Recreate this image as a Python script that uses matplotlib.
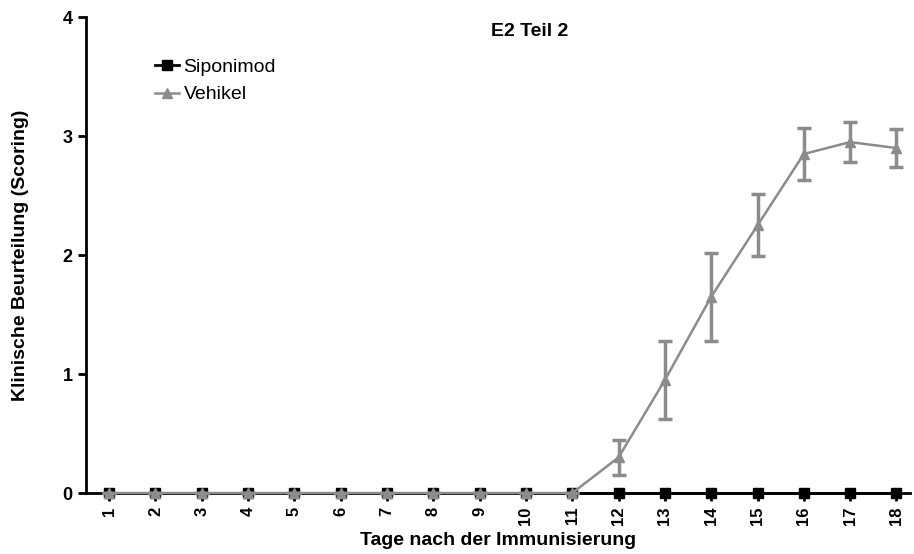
import numpy as np
import matplotlib.pyplot as plt
from matplotlib.lines import Line2D

plt.rcParams['font.family'] = ['Liberation Sans', 'DejaVu Sans']

days = list(range(1, 19))
siponimod = [0] * 18
vehikel = [0, 0, 0, 0, 0, 0, 0, 0, 0, 0, 0, 0.30, 0.95, 1.65, 2.25, 2.85, 2.95, 2.90]
vehikel_err = [0, 0, 0, 0, 0, 0, 0, 0, 0, 0, 0, 0.15, 0.33, 0.37, 0.26, 0.22, 0.17, 0.16]

grey = '#8c8c8c'

fig = plt.figure(figsize=(9.14, 5.54), dpi=100)
ax = fig.add_axes([0.094, 0.110, 0.902, 0.859])

ax.plot(days, siponimod, color='black', marker='s', markersize=7, linewidth=2,
        clip_on=False, zorder=3)
ax.errorbar(days, vehikel, yerr=vehikel_err, color=grey, marker='^', markersize=7,
            linewidth=1.8, elinewidth=2.5, capsize=5, capthick=2.5,
            clip_on=False, zorder=4)

ax.set_xlim(0.5, 18.3)
ax.set_ylim(0, 4)
ax.set_xticks(days)
ax.set_xticklabels([str(d) for d in days], rotation=90, fontweight='bold', fontsize=12)
ax.set_yticks([0, 1, 2, 3, 4])
ax.set_yticklabels(['0', '1', '2', '3', '4'], fontweight='bold', fontsize=13)
ax.tick_params(axis='both', direction='out', length=6, width=2)

for s in ['top', 'right']:
    ax.spines[s].set_visible(False)
for s in ['left', 'bottom']:
    ax.spines[s].set_linewidth(2)

ax.set_xlabel('Tage nach der Immunisierung', fontweight='bold', fontsize=14, labelpad=5)
ax.set_ylabel('Klinische Beurteilung (Scoring)', fontweight='bold', fontsize=14, labelpad=24)

fig.text(0.58, 0.944, 'E2 Teil 2', fontweight='bold', fontsize=14, ha='center', va='center')

handles = [Line2D([], [], color='black', marker='s', markersize=7, linewidth=2),
           Line2D([], [], color=grey, marker='^', markersize=7, linewidth=1.8)]
ax.legend(handles, ['Siponimod', 'Vehikel'], loc='upper left', bbox_to_anchor=(0.063, 0.95),
          frameon=False, fontsize=14, handlelength=1.2, handletextpad=0.25,
          labelspacing=0.5)

fig.savefig('out.png', dpi=100)
